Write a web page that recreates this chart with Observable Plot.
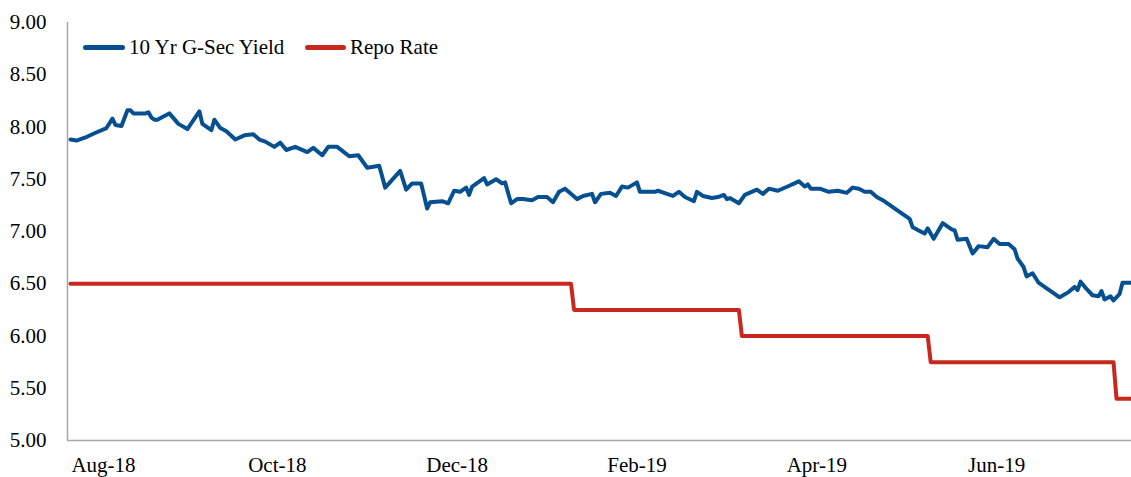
<!DOCTYPE html>
<html>
<head>
<meta charset="utf-8">
<script src="https://cdn.jsdelivr.net/npm/d3@7"></script>
<script src="https://cdn.jsdelivr.net/npm/@observablehq/plot@0.6"></script>
<style>
  html, body { margin: 0; padding: 0; background: #fff; }
  #wrap { position: relative; width: 1131px; height: 477px; font-family: "Liberation Serif", serif; color: #000; }
  .lg { position: absolute; top: 35px; height: 24px; display: flex; align-items: center; font-size: 21px; white-space: nowrap; }
  .sw { display: inline-block; height: 5px; border-radius: 3px; margin-right: 4px; }
</style>
</head>
<body>
<div id="wrap">
  <div id="chart"></div>
  <div class="lg" style="left:83px"><span class="sw" style="width:42px;background:#065091"></span>10 Yr G-Sec Yield</div>
  <div class="lg" style="left:305px"><span class="sw" style="width:41px;background:#c8281e"></span>Repo Rate</div>
</div>
<script>
// 10 Yr G-Sec yield (%)
const gsecDates = [
  "2018-08-23","2018-08-25","2018-08-28","2018-08-31",
  "2018-09-04","2018-09-06","2018-09-07","2018-09-09","2018-09-11","2018-09-12","2018-09-13","2018-09-17","2018-09-18","2018-09-19","2018-09-20","2018-09-21","2018-09-23","2018-09-25","2018-09-28",
  "2018-10-01","2018-10-05","2018-10-06","2018-10-09","2018-10-10","2018-10-12","2018-10-14","2018-10-17","2018-10-20","2018-10-23","2018-10-25","2018-10-27","2018-10-30",
  "2018-11-01","2018-11-03","2018-11-06","2018-11-10","2018-11-12","2018-11-15","2018-11-17","2018-11-20","2018-11-24","2018-11-27","2018-11-30",
  "2018-12-04","2018-12-06","2018-12-11","2018-12-13","2018-12-15","2018-12-18","2018-12-20","2018-12-21","2018-12-25","2018-12-27","2018-12-29","2018-12-31",
  "2019-01-02","2019-01-03","2019-01-04","2019-01-08","2019-01-09","2019-01-12","2019-01-14","2019-01-15","2019-01-17","2019-01-19","2019-01-21","2019-01-24","2019-01-26","2019-01-29","2019-01-31",
  "2019-02-02","2019-02-04","2019-02-08","2019-02-10","2019-02-13","2019-02-14","2019-02-16","2019-02-19","2019-02-21","2019-02-23","2019-02-25","2019-02-28",
  "2019-03-01","2019-03-06","2019-03-07","2019-03-10","2019-03-12","2019-03-14","2019-03-16","2019-03-19","2019-03-20","2019-03-22","2019-03-25","2019-03-27","2019-03-29","2019-03-30","2019-03-31",
  "2019-04-03","2019-04-05","2019-04-09","2019-04-11","2019-04-13","2019-04-16","2019-04-20","2019-04-23","2019-04-25","2019-04-26","2019-04-27","2019-04-30",
  "2019-05-03","2019-05-06","2019-05-09","2019-05-11","2019-05-13","2019-05-15","2019-05-17","2019-05-19","2019-05-21","2019-05-24","2019-05-26","2019-05-30","2019-05-31",
  "2019-06-02","2019-06-04","2019-06-05","2019-06-07","2019-06-10","2019-06-13","2019-06-14","2019-06-15","2019-06-18","2019-06-20","2019-06-22","2019-06-25","2019-06-27","2019-06-29",
  "2019-07-02","2019-07-04","2019-07-05","2019-07-07","2019-07-08","2019-07-10","2019-07-12","2019-07-14","2019-07-17","2019-07-19","2019-07-22","2019-07-24","2019-07-25","2019-07-26","2019-07-28","2019-07-30",
  "2019-08-01","2019-08-02","2019-08-03","2019-08-05","2019-08-06","2019-08-08","2019-08-09","2019-08-12"
];
const gsecYield = [
  7.88,7.87,7.90,7.94,
  7.99,8.08,8.02,8.01,8.16,8.16,8.13,8.13,8.14,8.09,8.07,8.07,8.10,8.13,8.03,
  7.98,8.15,8.03,7.97,8.07,7.99,7.96,7.88,7.92,7.93,7.88,7.86,7.81,
  7.85,7.78,7.81,7.76,7.80,7.73,7.81,7.81,7.72,7.73,7.61,
  7.63,7.42,7.58,7.40,7.46,7.46,7.22,7.28,7.29,7.27,7.39,7.38,
  7.42,7.35,7.43,7.51,7.45,7.50,7.46,7.47,7.27,7.31,7.31,7.30,7.33,7.33,7.28,
  7.38,7.41,7.31,7.34,7.36,7.28,7.36,7.37,7.34,7.43,7.42,7.47,
  7.38,7.38,7.39,7.36,7.34,7.38,7.33,7.29,7.38,7.34,7.32,7.33,7.35,7.31,7.32,
  7.27,7.35,7.40,7.36,7.41,7.39,7.44,7.48,7.43,7.45,7.41,7.41,
  7.38,7.39,7.37,7.42,7.41,7.38,7.38,7.33,7.30,7.24,7.20,7.12,7.04,
  7.01,6.98,7.03,6.93,7.08,7.02,7.01,6.92,6.93,6.79,6.86,6.85,6.93,6.88,
  6.88,6.83,6.74,6.66,6.57,6.60,6.51,6.47,6.41,6.37,6.42,6.47,6.44,6.52,6.45,6.39,
  6.38,6.43,6.35,6.38,6.34,6.40,6.51,6.51
];
// RBI repo rate (%)
const repoDates = ["2018-08-23","2019-02-06","2019-02-07","2019-04-03","2019-04-04","2019-06-05","2019-06-06","2019-08-06","2019-08-07","2019-08-12"];
const repoRate  = [6.50, 6.50, 6.25, 6.25, 6.00, 6.00, 5.75, 5.75, 5.40, 5.40];

const yTicks = [5.0, 5.5, 6.0, 6.5, 7.0, 7.5, 8.0, 8.5, 9.0];
const xTickDates = ["2018-09-03","2018-10-31","2018-12-30","2019-02-28","2019-04-29","2019-06-28"];
const xTickLabels = ["Aug-18","Oct-18","Dec-18","Feb-19","Apr-19","Jun-19"];
const xDomain = ["2018-08-22","2019-08-12"];

const gsec = gsecDates.map((d, i) => ({date: new Date(d), value: gsecYield[i]}));
const repo = repoDates.map((d, i) => ({date: new Date(d), value: repoRate[i]}));
const tickMap = new Map(xTickDates.map((d, i) => [+new Date(d), xTickLabels[i]]));
const x0 = new Date(xDomain[0]);

const chart = Plot.plot({
  width: 1131,
  height: 477,
  marginLeft: 67,
  marginRight: 0,
  marginTop: 22,
  marginBottom: 37,
  style: {fontFamily: "Liberation Serif, serif", fontSize: "21px", color: "#000", background: "#fff", overflow: "visible"},
  x: {type: "utc", domain: xDomain.map(d => new Date(d))},
  y: {domain: [5, 9]},
  marks: [
    Plot.axisY({ticks: yTicks, tickFormat: d => d.toFixed(2), tickSize: 0, tickPadding: 21, label: null, fill: "#000"}),
    Plot.axisX({ticks: xTickDates.map(d => new Date(d)), tickFormat: d => tickMap.get(+d), tickSize: 0, tickPadding: 17, label: null, fill: "#000"}),
    Plot.ruleX([x0], {y1: 5, y2: 9, stroke: "#a6a6a6", strokeWidth: 1.5}),
    Plot.ruleY([5], {stroke: "#a6a6a6", strokeWidth: 1.5}),
    Plot.line(repo, {x: "date", y: "value", stroke: "#c8281e", strokeWidth: 4, strokeLinejoin: "round"}),
    Plot.line(gsec, {x: "date", y: "value", stroke: "#065091", strokeWidth: 4, strokeLinejoin: "round", strokeLinecap: "round"})
  ]
});
document.getElementById("chart").appendChild(chart);
</script>
</body>
</html>
